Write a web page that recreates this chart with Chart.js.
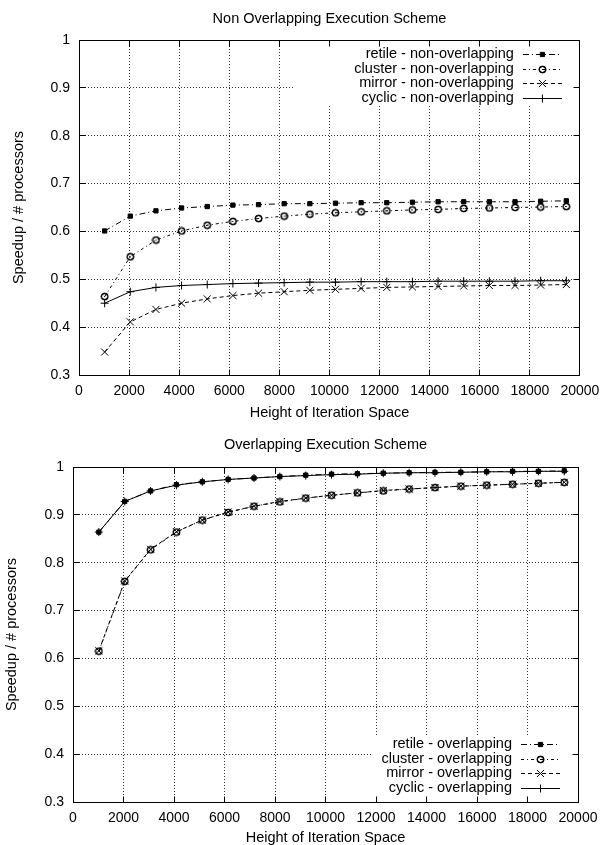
<!DOCTYPE html>
<html>
<head>
<meta charset="utf-8">
<script src="https://cdn.jsdelivr.net/npm/chart.js"></script>
<style>
  body { margin: 0; background: #fff; }
  canvas { display: block; }
</style>
</head>
<body>
<canvas id="nonOverlap" width="607" height="420"></canvas>
<canvas id="overlap" width="607" height="425"></canvas>
<script>
// x values: height of the iteration space
var heights = [1024, 2048, 3072, 4096, 5120, 6144, 7168, 8192, 9216, 10240,
               11264, 12288, 13312, 14336, 15360, 16384, 17408, 18432, 19456];
var xTicks = [0, 2000, 4000, 6000, 8000, 10000, 12000, 14000, 16000, 18000, 20000];
var yTicks = [0.3, 0.4, 0.5, 0.6, 0.7, 0.8, 0.9, 1];

var seriesNames = ["retile", "cluster", "mirror", "cyclic"];

// non overlapping scheme
var retileNon  = [0.601, 0.632, 0.643, 0.649, 0.652, 0.655, 0.656, 0.658, 0.658, 0.659, 0.660, 0.660, 0.661, 0.662, 0.662, 0.662, 0.662, 0.663, 0.664];
var clusterNon = [0.464, 0.547, 0.582, 0.601, 0.613, 0.621, 0.627, 0.632, 0.636, 0.639, 0.641, 0.643, 0.645, 0.646, 0.648, 0.649, 0.650, 0.651, 0.652];
var mirrorNon  = [0.348, 0.411, 0.437, 0.450, 0.459, 0.466, 0.471, 0.474, 0.477, 0.479, 0.481, 0.483, 0.484, 0.485, 0.486, 0.487, 0.487, 0.488, 0.489];
var cyclicNon  = [0.450, 0.474, 0.483, 0.487, 0.489, 0.491, 0.492, 0.493, 0.494, 0.494, 0.495, 0.495, 0.495, 0.496, 0.496, 0.496, 0.496, 0.497, 0.497];

// overlapping scheme
var retileOv  = [0.864, 0.928, 0.950, 0.963, 0.969, 0.974, 0.977, 0.980, 0.983, 0.985, 0.986, 0.987, 0.988, 0.989, 0.989, 0.990, 0.991, 0.991, 0.992];
var clusterOv = [0.615, 0.761, 0.827, 0.864, 0.889, 0.905, 0.918, 0.927, 0.935, 0.941, 0.946, 0.950, 0.954, 0.957, 0.960, 0.962, 0.964, 0.966, 0.968];
var mirrorOv  = [0.616, 0.762, 0.828, 0.865, 0.889, 0.906, 0.918, 0.928, 0.935, 0.941, 0.946, 0.951, 0.954, 0.957, 0.960, 0.962, 0.964, 0.966, 0.968];
var cyclicOv  = [0.864, 0.928, 0.950, 0.962, 0.969, 0.974, 0.977, 0.980, 0.982, 0.984, 0.985, 0.987, 0.988, 0.988, 0.989, 0.990, 0.990, 0.991, 0.991];

var FONT = "'Liberation Sans', Arial, sans-serif";
Chart.defaults.font.family = FONT;
Chart.defaults.color = '#000';

// open circle with a dot in the middle
function makeCircleDot() {
  var c = document.createElement('canvas');
  c.width = 9; c.height = 9;
  var g = c.getContext('2d');
  g.strokeStyle = '#000';
  g.lineWidth = 1.2;
  g.beginPath();
  g.arc(4.5, 4.5, 3.2, 0, Math.PI * 2);
  g.stroke();
  g.stroke();
  g.fillStyle = '#000';
  g.fillRect(4, 4, 1, 1);
  return c;
}
var circleDot = makeCircleDot();

var styles = [
  { dash: [6, 3, 1, 3], point: 'rect', radius: 3 },
  { dash: [3, 3, 1, 3], point: circleDot, radius: 4 },
  { dash: [4, 3], point: 'crossRot', radius: 5 },
  { dash: [], point: 'cross', radius: 4 }
];

function makeSets(values, suffix) {
  return values.map(function (vals, i) {
    var s = styles[i];
    return {
      label: seriesNames[i] + ' - ' + suffix,
      data: heights.map(function (h, j) { return { x: h, y: vals[j] }; }),
      borderColor: '#000',
      borderWidth: 1,
      borderDash: s.dash,
      pointStyle: s.point,
      pointRadius: s.radius,
      pointBorderColor: '#000',
      pointBackgroundColor: '#000',
      pointBorderWidth: 1,
      tension: 0,
      fill: false
    };
  });
}

function align(px) { return Math.round(px - 0.5) + 0.5; }

function drawMarker(ctx, style, r, x, y) {
  ctx.beginPath();
  if (style instanceof HTMLCanvasElement) {
    ctx.drawImage(style, x - style.width / 2, y - style.height / 2);
    return;
  }
  if (style === 'rect') {
    var s = r * Math.SQRT1_2;
    ctx.rect(x - s, y - s, 2 * s, 2 * s);
    ctx.fill();
    ctx.stroke();
  } else if (style === 'crossRot') {
    var o = r * Math.SQRT1_2;
    ctx.moveTo(x - o, y - o); ctx.lineTo(x + o, y + o);
    ctx.moveTo(x - o, y + o); ctx.lineTo(x + o, y - o);
    ctx.stroke();
  } else {
    ctx.moveTo(x - r, y); ctx.lineTo(x + r, y);
    ctx.moveTo(x, y - r); ctx.lineTo(x, y + r);
    ctx.stroke();
  }
}

// gnuplot style frame: title, opaque key box, border, inward ticks, key
var framePlugin = {
  id: 'frame',
  afterDatasetsDraw: function (chart, args, opts) {
    var ctx = chart.ctx, a = chart.chartArea;
    var xs = chart.scales.x, ys = chart.scales.y;
    ctx.save();

    // key box
    var bx = a.right - opts.boxWidth;
    var by = opts.corner === 'top' ? a.top : a.bottom - opts.boxHeight;
    ctx.fillStyle = '#fff';
    ctx.fillRect(bx, by, opts.boxWidth, opts.boxHeight);

    // border
    var L = align(a.left), R = align(a.right), T = align(a.top), B = align(a.bottom);
    ctx.strokeStyle = '#000';
    ctx.lineWidth = 1;
    ctx.setLineDash([]);
    ctx.strokeRect(L, T, R - L, B - T);

    // inward ticks on all four sides
    var tl = 6;
    ctx.beginPath();
    xTicks.forEach(function (v) {
      var p = align(xs.getPixelForValue(v));
      ctx.moveTo(p, B); ctx.lineTo(p, B - tl);
      ctx.moveTo(p, T); ctx.lineTo(p, T + tl);
    });
    yTicks.forEach(function (v) {
      var p = align(ys.getPixelForValue(v));
      ctx.moveTo(L, p); ctx.lineTo(L + tl, p);
      ctx.moveTo(R, p); ctx.lineTo(R - tl, p);
    });
    ctx.stroke();

    // title
    ctx.fillStyle = '#000';
    ctx.font = '14.5px ' + FONT;
    ctx.textAlign = 'center';
    ctx.textBaseline = 'middle';
    ctx.fillText(opts.title, (a.left + a.right) / 2, opts.titleY);

    // key entries
    var sets = chart.data.datasets;
    var n = sets.length;
    ctx.textAlign = 'right';
    sets.forEach(function (ds, i) {
      var y = opts.corner === 'top'
        ? a.top + 14 + i * 14.7
        : a.bottom - 14 - (n - 1 - i) * 14.7;
      ctx.fillStyle = '#000';
      ctx.fillText(ds.label, a.right - 66, y);
      var x1 = a.right - 57, x2 = a.right - 18;
      var yy = Math.round(y) + 0.5;
      ctx.beginPath();
      ctx.setLineDash(ds.borderDash);
      ctx.moveTo(x1, yy); ctx.lineTo(x2, yy);
      ctx.stroke();
      ctx.setLineDash([]);
      drawMarker(ctx, ds.pointStyle, ds.pointRadius, (x1 + x2) / 2, yy);
    });

    ctx.restore();
  }
};

function makeConfig(sets, frameOpts, pad, yTitlePad) {
  return {
    type: 'line',
    data: { datasets: sets },
    plugins: [framePlugin],
    options: {
      responsive: false,
      animation: false,
      layout: { padding: pad },
      plugins: {
        legend: { display: false },
        title: { display: false },
        tooltip: { enabled: false },
        frame: frameOpts
      },
      scales: {
        x: {
          type: 'linear',
          min: 0,
          max: 20000,
          afterBuildTicks: function (s) { s.ticks = xTicks.map(function (v) { return { value: v }; }); },
          afterFit: function (s) { s.height = pad.xHeight; },
          ticks: {
            autoSkip: false, maxRotation: 0, padding: 7.6,
            font: { size: 14 },
            callback: function (v) { return String(v); }
          },
          grid: { color: '#333', drawTicks: false },
          border: { display: false, dash: [1, 2] },
          title: {
            display: true, text: 'Height of Iteration Space',
            font: { size: 14.5, lineHeight: 1 }, padding: 0
          }
        },
        y: {
          min: 0.3,
          max: 1,
          afterBuildTicks: function (s) { s.ticks = yTicks.map(function (v) { return { value: v }; }); },
          afterFit: function (s) { s.width = pad.yWidth; },
          ticks: {
            padding: 9,
            font: { size: 14 },
            callback: function (v) { return String(v); }
          },
          grid: { color: '#333', drawTicks: false },
          border: { display: false, dash: [1, 2] },
          title: {
            display: true, text: 'Speedup / # processors',
            font: { size: 14.5, lineHeight: 1 }, padding: { top: yTitlePad, bottom: 0 }
          }
        }
      }
    }
  };
}

var padTop = { top: 40, right: 23, bottom: 0, left: 0, xHeight: 45, yWidth: 79 };
new Chart(document.getElementById('nonOverlap'), makeConfig(
  makeSets([retileNon, clusterNon, mirrorNon, cyclicNon], 'non-overlapping'),
  { title: 'Non Overlapping Execution Scheme', titleY: 18.7, corner: 'top', boxWidth: 286, boxHeight: 66 },
  padTop, 12));

var padBottom = { top: 47, right: 29, bottom: 0, left: 0, xHeight: 43, yWidth: 73 };
new Chart(document.getElementById('overlap'), makeConfig(
  makeSets([retileOv, clusterOv, mirrorOv, cyclicOv], 'overlapping'),
  { title: 'Overlapping Execution Scheme', titleY: 25, corner: 'bottom', boxWidth: 205, boxHeight: 67 },
  padBottom, 5));
</script>
</body>
</html>
